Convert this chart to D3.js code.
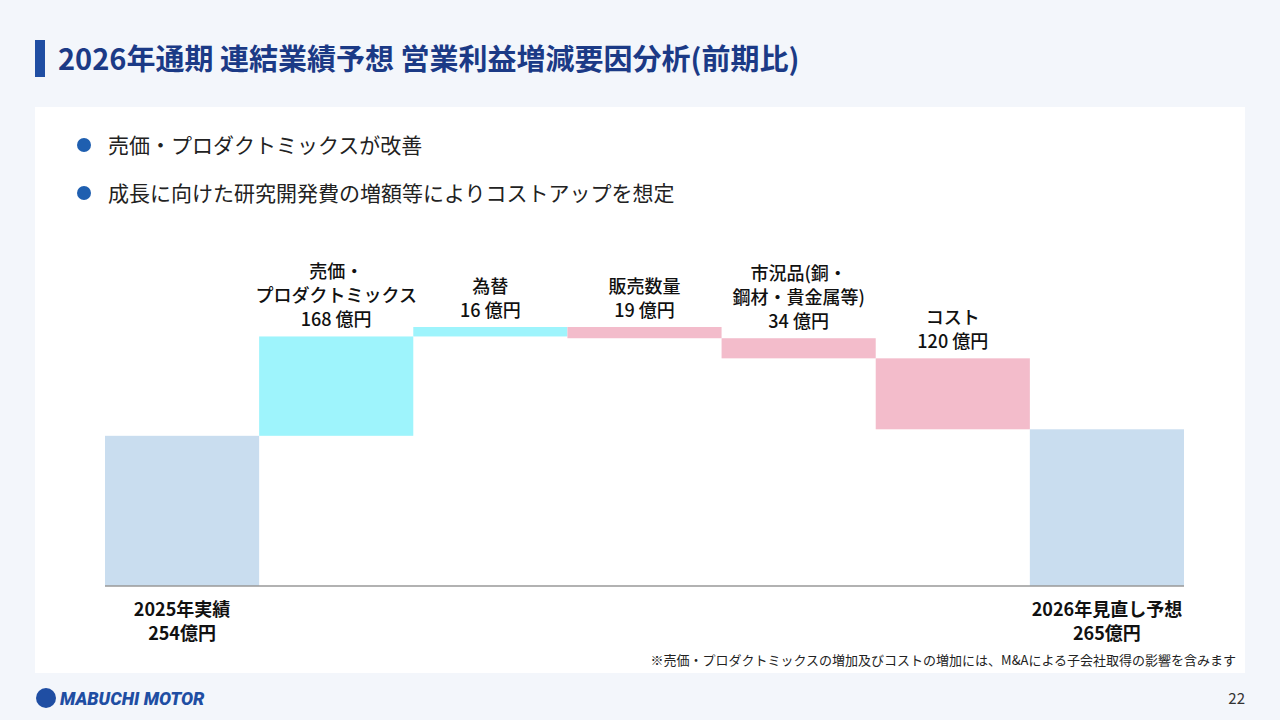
<!DOCTYPE html>
<html><head><meta charset="utf-8">
<script src="https://cdn.jsdelivr.net/npm/d3@7"></script>
<style>body{margin:0;background:#f3f6fb;font-family:"Noto Sans CJK JP","Noto Sans",sans-serif}</style>
</head><body>
<svg width="1280" height="720"></svg>
<script>
var steps = ["start", "price", "fx", "volume", "market", "cost", "end"];
var values = [254, 168, 16, -19, -34, -120, 265];
var labels = [
  ["2025年実績", "254億円"],
  ["売価・", "プロダクトミックス", "168 億円"],
  ["為替", "16 億円"],
  ["販売数量", "19 億円"],
  ["市況品(銅・", "鋼材・貴金属等)", "34 億円"],
  ["コスト", "120 億円"],
  ["2026年見直し予想", "265億円"]
];
var bullets = ["売価・プロダクトミックスが改善", "成長に向けた研究開発費の増額等によりコストアップを想定"];

var svg = d3.select("svg");
svg.append("rect").attr("width", 1280).attr("height", 720).attr("fill", "#f3f6fb");
svg.append("rect").attr("x", 35).attr("y", 40).attr("width", 10).attr("height", 37).attr("fill", "#1f4ea3");
svg.append("text").attr("x", 58).attr("y", 70).attr("font-size", 29).attr("font-weight", 700)
  .attr("fill", "#1b3a86").text("2026年通期  連結業績予想  営業利益増減要因分析(前期比)");
svg.append("rect").attr("x", 35).attr("y", 107).attr("width", 1210).attr("height", 566).attr("fill", "#fff");

bullets.forEach(function (b, i) {
  var y = 145 + i * 48;
  svg.append("circle").attr("cx", 84).attr("cy", y).attr("r", 7).attr("fill", "#1f5fb0");
  svg.append("text").attr("x", 108).attr("y", y + 8).attr("font-size", 21).attr("fill", "#222").text(b);
});

// waterfall bars
var bars = [];
var run = 0;
values.forEach(function (v, i) {
  if (i === 0 || i === values.length - 1) { bars.push({ i: i, y0: 0, y1: v, kind: "total" }); run = v; }
  else { bars.push({ i: i, y0: run, y1: run + v, kind: v > 0 ? "up" : "down" }); run += v; }
});

var x = d3.scaleBand().domain(steps).range([105, 1184]).padding(0);
var y = d3.scaleLinear().domain([0, 438]).range([586, 327]);
var color = { total: "#c9ddef", up: "#9ef4fc", down: "#f3bccb" };

svg.selectAll("rect.bar").data(bars).enter().append("rect").attr("class", "bar")
  .attr("x", function (d) { return x(steps[d.i]); })
  .attr("width", x.bandwidth())
  .attr("y", function (d) { return y(Math.max(d.y0, d.y1)); })
  .attr("height", function (d) { return Math.abs(y(d.y0) - y(d.y1)); })
  .attr("fill", function (d) { return color[d.kind]; });

svg.append("line").attr("x1", 105).attr("x2", 1184).attr("y1", y(0)).attr("y2", y(0))
  .attr("stroke", "#999").attr("stroke-width", 1.5);

bars.forEach(function (d) {
  var lines = labels[d.i];
  var cx = x(steps[d.i]) + x.bandwidth() / 2;
  var t = svg.append("text").attr("text-anchor", "middle").attr("font-size", 18)
    .attr("font-weight", 500).attr("fill", "#111");
  var ys;
  if (d.kind === "total") ys = y(0) + 30;
  else ys = y(Math.max(d.y0, d.y1)) - 10 - (lines.length - 1) * 24;
  lines.forEach(function (l, k) {
    t.append("tspan").attr("x", cx).attr("y", ys + k * 24).text(l);
  });
  if (d.kind === "total") t.attr("font-weight", 700);
});

svg.append("text").attr("x", 1236).attr("y", 665).attr("text-anchor", "end").attr("font-size", 13)
  .attr("fill", "#222").text("※売価・プロダクトミックスの増加及びコストの増加には、M&Aによる子会社取得の影響を含みます");

// footer
svg.append("circle").attr("cx", 46).attr("cy", 698).attr("r", 10).attr("fill", "#1f4ea3");
svg.append("text").attr("x", 60).attr("y", 705).attr("font-size", 18).attr("font-weight", 900)
  .attr("fill", "#1f4ea3").attr("font-family", "Roboto, sans-serif").attr("font-style", "italic").text("MABUCHI MOTOR");
svg.append("text").attr("x", 1245).attr("y", 704).attr("text-anchor", "end").attr("font-size", 15)
  .attr("fill", "#333").text("22");
</script>
</body></html>
